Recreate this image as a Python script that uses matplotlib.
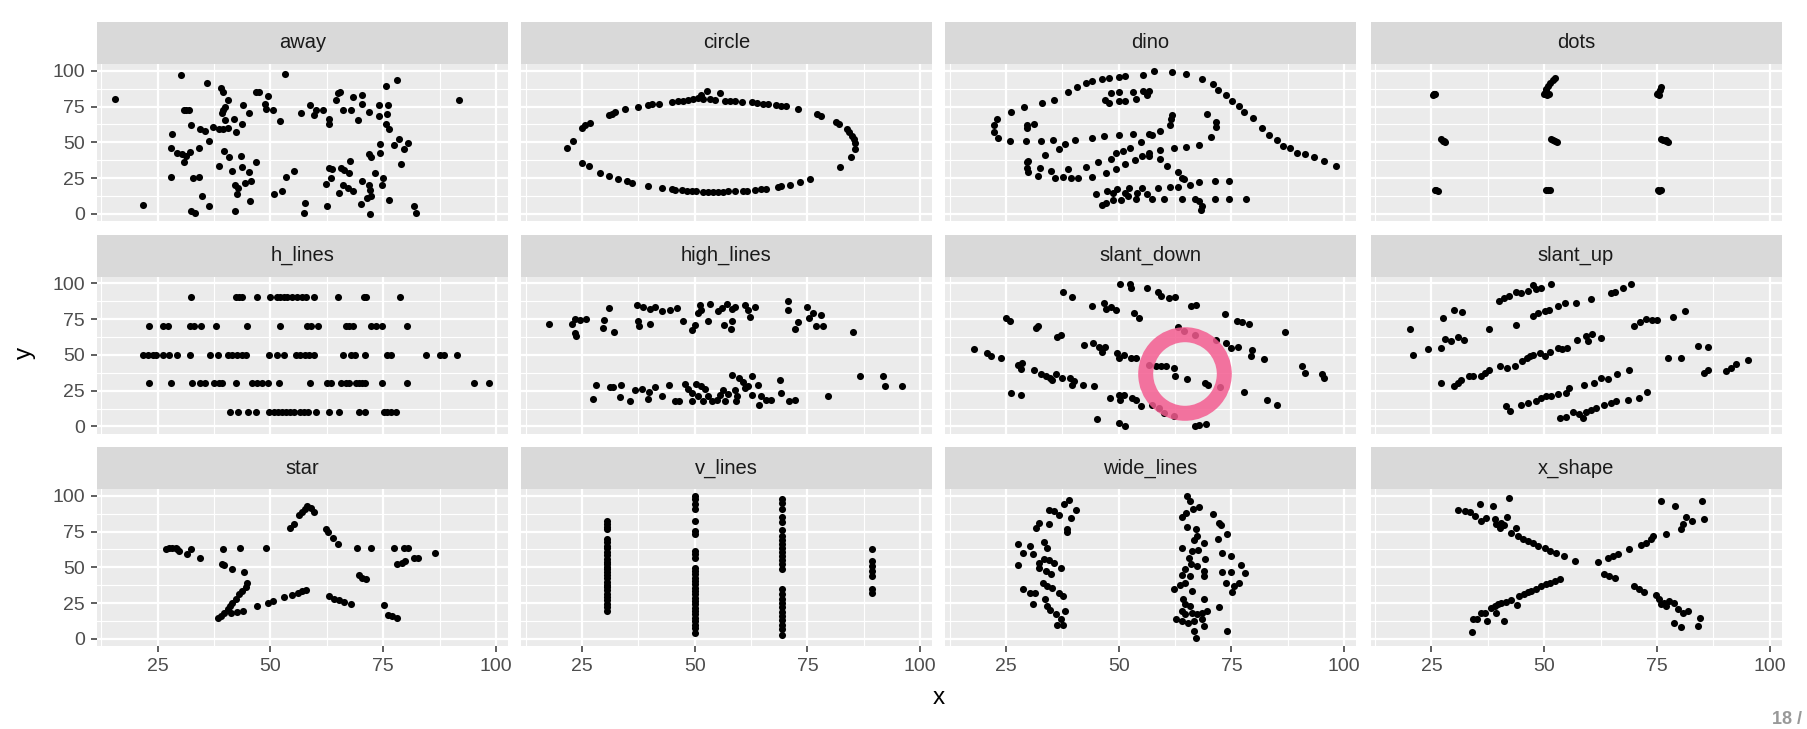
import numpy as np
import matplotlib.pyplot as plt
from matplotlib.patches import Ellipse

plt.rcParams['font.family'] = ['Liberation Sans', 'DejaVu Sans']

# points, (x, y)
away = [(15.6, 80.2), (21.8, 5.9), (30.2, 97.2), (28.0, 45.8), (28.3, 55.9), (28.0, 25.7), (29.4, 42.2),
        (30.8, 36.6), (31.3, 72.4), (32.0, 72.4), (30.9, 72.4), (32.4, 61.8), (32.2, 42.9), (31.3, 40.6),
        (30.3, 41.7), (34.2, 45.8), (32.9, 24.8), (34.2, 25.7), (34.9, 12.3), (32.4, 1.7), (33.3, 0.3),
        (36.4, 5.7), (35.9, 91.7), (34.4, 59.4), (35.4, 57.8), (36.4, 50.7), (37.2, 60.6), (38.7, 59.4),
        (39.6, 59.4), (40.5, 60.1), (39.0, 87.7), (39.6, 85.4), (39.9, 74.8), (40.6, 79.5), (39.6, 72.4),
        (39.2, 70.5), (39.9, 65.3), (42.0, 66.5), (42.3, 57.1), (43.6, 62.5), (44.0, 75.9), (45.3, 70.5),
        (46.8, 85.4), (47.5, 85.4), (49.4, 82.3), (48.8, 76.7), (49.0, 73.6), (50.5, 72.4), (52.2, 64.9),
        (53.3, 97.9), (39.8, 44.1), (40.9, 39.4), (38.7, 33.5), (41.6, 30.0), (43.5, 40.6), (43.6, 32.8),
        (45.3, 29.2), (46.8, 36.6), (42.1, 20.5), (42.6, 13.9), (42.8, 18.2), (44.4, 21.7), (45.7, 22.9),
        (45.4, 9.2), (42.1, 1.7), (50.8, 13.9), (52.5, 15.8), (53.4, 25.9), (55.3, 30.0), (56.7, 70.8),
        (58.8, 75.9), (60.1, 72.4), (59.7, 68.9), (61.7, 72.4), (63.0, 66.5), (63.0, 63.0), (64.5, 79.5),
        (65.0, 84.2), (65.5, 85.4), (66.0, 72.9), (67.8, 72.9), (68.2, 81.4), (69.4, 65.8), (70.2, 83.0),
        (70.2, 77.1), (71.9, 71.2), (74.1, 75.9), (76.1, 75.9), (75.6, 89.4), (78.1, 93.6), (74.1, 68.2),
        (75.9, 70.0), (75.7, 63.0), (76.3, 59.4), (74.3, 48.8), (77.4, 48.3), (78.5, 52.4), (80.5, 49.3),
        (79.6, 45.3), (78.9, 35.1), (74.3, 42.2), (71.9, 41.7), (72.4, 39.4), (73.2, 28.8), (75.0, 25.2),
        (74.8, 20.5), (71.9, 20.0), (72.1, 17.0), (72.3, 12.3), (71.5, 11.1), (70.0, 6.8), (72.1, 0.1),
        (76.4, 9.7), (81.8, 5.7), (82.2, 0.5), (70.2, 23.3), (67.6, 37.0), (67.4, 28.8), (66.3, 30.4),
        (65.6, 32.3), (63.7, 31.1), (63.0, 32.3), (62.3, 21.0), (63.4, 25.2), (65.2, 14.6), (66.0, 20.5),
        (67.1, 18.2), (68.2, 15.8), (62.6, 5.2), (57.6, 7.5), (57.5, 0.5), (91.8, 79.5)]

circle = [(52.8, 85.8), (55.6, 84.2), (51.5, 83.0), (44.9, 78.3), (46.4, 79.0), (47.5, 79.0), (48.6, 79.5),
          (49.7, 80.0), (50.7, 80.7), (51.9, 80.0), (53.4, 80.0), (54.5, 79.5), (56.7, 79.0), (57.8, 79.0),
          (58.9, 79.0), (60.4, 78.5), (62.6, 78.3), (63.7, 77.6), (65.2, 76.7), (66.3, 76.7), (68.1, 75.9),
          (69.2, 75.5), (70.3, 75.5), (72.9, 73.1), (77.0, 69.6), (77.9, 68.2), (81.4, 64.2), (81.9, 62.5),
          (83.8, 59.4), (84.3, 57.1), (84.8, 54.7), (85.4, 52.4), (85.6, 49.3), (85.6, 45.3), (84.6, 39.4),
          (82.2, 33.0), (75.5, 24.1), (73.3, 22.2), (71.1, 20.5), (69.2, 19.3), (68.5, 18.6), (65.9, 17.7),
          (64.8, 17.5), (63.3, 16.5), (61.5, 16.3), (60.8, 16.3), (58.9, 15.8), (57.4, 15.8), (56.3, 15.6),
          (55.2, 15.6), (54.1, 15.6), (53.0, 15.6), (51.9, 15.6), (50.4, 15.8), (49.3, 16.0), (48.2, 16.3),
          (47.1, 16.7), (45.6, 17.0), (44.9, 17.5), (42.7, 18.2), (39.7, 19.8), (36.1, 21.7), (35.0, 22.9),
          (33.1, 24.1), (30.9, 26.4), (28.9, 28.8), (26.5, 33.5), (25.0, 35.8), (21.7, 46.0), (23.0, 51.2),
          (25.0, 60.1), (25.7, 61.8), (26.8, 63.4), (30.9, 68.9), (31.6, 70.0), (32.4, 71.2), (34.6, 73.1),
          (37.5, 74.8), (39.7, 76.2), (40.5, 76.7), (42.0, 77.1)]

dino = [(55.4, 97.2), (51.5, 96.0), (46.2, 94.5), (42.8, 91.4), (40.8, 88.3), (38.7, 84.9), (35.6, 79.9),
        (33.1, 77.6), (29.0, 74.5), (26.2, 71.4), (23.1, 66.4), (22.3, 61.8), (22.3, 57.2), (23.3, 52.9),
        (25.9, 51.0), (29.5, 51.0), (32.8, 51.0), (35.4, 51.4), (40.3, 51.4), (44.1, 52.9), (46.7, 54.1),
        (50.0, 55.3), (53.1, 55.6), (56.7, 56.0), (59.2, 57.9), (61.3, 62.2), (61.5, 66.4), (61.8, 69.1),
        (57.4, 55.3), (54.9, 49.9), (52.6, 46.0), (48.2, 38.3), (49.5, 42.2), (51.0, 44.1), (45.4, 36.4),
        (42.8, 32.6), (38.7, 31.4), (35.1, 30.3), (32.6, 32.2), (30.0, 36.8), (33.6, 41.4), (36.7, 45.6),
        (38.2, 49.1), (29.7, 36.0), (29.7, 32.2), (30.0, 29.1), (32.1, 26.8), (35.9, 25.3), (41.0, 25.3),
        (44.1, 25.6), (47.2, 28.7), (49.5, 31.4), (51.5, 34.9), (53.6, 37.6), (55.1, 40.6), (56.7, 42.2),
        (59.2, 44.5), (62.3, 46.0), (64.9, 46.8), (67.9, 47.9), (70.5, 53.7), (71.5, 60.6), (71.5, 64.5),
        (69.5, 69.5), (46.9, 79.9), (48.2, 84.1), (50.0, 85.3), (53.1, 85.3), (55.4, 86.0), (56.7, 86.0),
        (56.2, 82.9), (53.8, 80.6), (51.3, 78.7), (50.0, 78.7), (47.9, 77.6), (29.7, 59.9), (29.7, 62.2),
        (31.3, 62.6), (57.9, 99.5), (61.8, 99.1), (64.9, 97.6), (68.5, 94.1), (70.8, 91.0), (72.1, 86.4),
        (73.8, 83.3), (75.1, 79.1), (76.7, 75.3), (77.7, 71.4), (79.7, 66.8), (81.8, 60.3), (83.3, 55.3),
        (85.1, 51.4), (86.4, 47.6), (87.9, 46.0), (89.5, 42.6), (93.3, 39.9), (95.4, 36.8), (98.2, 33.7),
        (56.7, 40.6), (59.2, 38.3), (60.8, 33.7), (63.1, 29.1), (64.1, 25.3), (64.4, 24.1), (74.4, 22.9),
        (71.3, 22.9), (67.9, 22.2), (65.9, 20.3), (63.1, 19.1), (61.3, 19.1), (58.7, 18.3), (55.1, 18.3),
        (52.3, 18.3), (49.7, 17.6), (47.4, 16.0), (44.9, 13.7), (48.7, 14.9), (51.3, 14.9), (54.1, 14.9),
        (56.2, 14.1), (52.1, 12.6), (48.7, 9.5), (47.2, 7.6), (46.2, 6.0), (50.5, 9.5), (53.8, 10.3),
        (57.4, 10.3), (60.0, 10.6), (64.1, 10.6), (66.9, 10.6), (71.3, 10.6), (74.4, 10.6), (78.2, 10.6),
        (67.9, 8.7), (68.5, 5.3), (68.2, 2.9), (37.7, 25.8), (39.5, 25.4), (91.3, 41.5), (50.0, 95.8),
        (47.9, 95.0), (44.1, 92.7)]

dots = [(25.4, 83.0), (25.6, 83.5), (25.7, 84.0), (25.5, 83.8),
        (27.2, 52.0), (27.6, 51.2), (28.1, 50.5), (27.9, 50.9),
        (25.8, 16.8), (26.1, 16.5), (26.4, 16.3),
        (50.0, 83.6), (50.2, 84.5), (50.3, 85.8), (50.5, 87.5), (50.8, 89.5), (51.3, 91.5), (51.9, 93.8),
        (52.3, 95.0), (50.6, 83.2), (51.0, 84.0),
        (51.6, 52.2), (52.0, 51.5), (52.5, 50.8), (52.8, 50.2),
        (50.4, 16.6), (50.8, 16.4), (51.2, 16.7),
        (75.0, 83.4), (75.3, 84.5), (75.6, 86.3), (75.8, 88.3), (75.4, 83.0),
        (75.8, 52.0), (76.3, 51.6), (76.9, 50.9), (77.4, 50.2), (77.1, 51.4),
        (75.2, 16.6), (75.5, 16.0), (75.8, 16.4)]

h_lines = ([(x, 90.1) for x in [32.4, 42.3, 43.0, 43.8, 47.1, 49.9, 51.5, 52.2, 53.0, 53.7, 54.8, 55.9,
                                 57.0, 58.0, 59.7, 64.9, 70.8, 71.1, 78.7]]
           + [(x, 70.2) for x in [23.0, 26.1, 27.2, 32.2, 33.1, 34.6, 37.9, 44.9, 52.2, 58.1, 59.0, 60.5,
                                  66.7, 67.5, 68.2, 72.2, 73.3, 74.8, 80.2]]
           + [(x, 50.2) for x in [21.7, 22.8, 23.9, 24.6, 26.3, 27.5, 29.4, 32.2, 36.7, 38.3, 40.5, 41.6,
                                  42.7, 43.6, 44.7, 49.7, 51.4, 53.0, 55.6, 56.5, 57.6, 58.5, 59.7, 66.0,
                                  67.8, 68.7, 70.9, 75.8, 76.7, 84.4, 87.6, 88.5, 91.3]]
           + [(x, 30.3) for x in [23.0, 28.0, 32.7, 34.4, 35.4, 37.5, 38.6, 39.3, 42.3, 46.0, 47.1, 48.2,
                                  49.4, 51.9, 58.8, 62.5, 63.4, 65.7, 66.7, 67.5, 68.9, 69.7, 70.4, 70.9,
                                  74.8, 80.2, 95.1, 98.4]]
           + [(x, 10.2) for x in [41.1, 42.9, 45.1, 46.8, 49.7, 50.7, 51.6, 52.5, 53.4, 54.4, 55.3, 56.6,
                                  57.5, 58.4, 60.1, 63.0, 65.2, 69.6, 70.9, 75.2, 75.9, 76.8, 77.8]])

high_lines = [(17.8, 71.4), (22.9, 71.4), (23.5, 74.9), (24.6, 74.0), (25.9, 74.9), (23.5, 65.1), (23.7, 63.3),
              (29.8, 74.4), (29.6, 68.6), (31.1, 83.0), (32.2, 65.6), (37.2, 84.9), (38.6, 83.3), (40.1, 81.9),
              (41.2, 83.3), (42.7, 80.7), (44.5, 81.4), (46.0, 82.6), (37.4, 73.3), (37.7, 69.8), (40.0, 71.6),
              (47.3, 73.3), (49.3, 67.4), (50.1, 70.9), (50.7, 79.1), (51.2, 84.9), (51.5, 81.4), (52.9, 73.3),
              (53.4, 85.6), (55.2, 80.7), (56.0, 82.6), (57.1, 85.6), (58.2, 81.9), (58.9, 83.3), (56.6, 70.9),
              (58.1, 67.9), (58.2, 73.3), (61.1, 84.9), (62.2, 76.7), (63.4, 83.7), (61.9, 81.4), (70.7, 87.9),
              (70.6, 81.4), (72.3, 68.1), (72.8, 72.6), (74.8, 83.7), (75.3, 75.6), (76.8, 70.2), (77.9, 77.9),
              (78.5, 70.2), (76.3, 79.1), (85.1, 65.6),
              (27.4, 19.3), (28.2, 28.6), (31.3, 27.2), (32.0, 27.4), (33.7, 29.1), (33.5, 20.2), (35.7, 17.9),
              (36.7, 25.6), (38.3, 26.0), (39.7, 19.1), (39.9, 23.7), (41.2, 27.4), (42.7, 20.9), (44.3, 29.1),
              (45.6, 17.4), (46.5, 17.4), (47.9, 29.8), (48.6, 26.0), (49.3, 23.3), (50.4, 29.8), (51.5, 27.9),
              (52.2, 26.0), (49.3, 17.4), (50.8, 20.9), (51.9, 17.4), (53.0, 20.9), (53.8, 17.4), (54.9, 18.6),
              (55.6, 22.1), (56.3, 25.6), (56.7, 17.4), (57.4, 22.6), (58.2, 36.0), (58.9, 25.6), (59.3, 20.9),
              (59.1, 17.4), (59.8, 33.7), (60.8, 30.7), (61.1, 26.7), (61.9, 27.9), (62.8, 34.9), (62.8, 22.1),
              (64.0, 29.1), (64.3, 15.1), (64.8, 20.9), (65.9, 18.6), (67.0, 18.6), (68.9, 32.1), (69.1, 23.3),
              (70.9, 17.4), (72.2, 18.6), (79.6, 21.4), (86.6, 35.3), (91.7, 35.3), (92.1, 28.4), (96.0, 28.4)]

slant_down = [(18.0, 54.0), (20.7, 51.6), (21.7, 49.5), (24.0, 47.7), (25.0, 75.6), (25.9, 73.3), (26.1, 23.3),
              (28.3, 21.6), (27.6, 43.0), (28.5, 44.2), (28.3, 40.0), (31.3, 39.5), (31.6, 68.4), (32.2, 69.8),
              (32.8, 36.7), (33.8, 35.3), (34.7, 33.7), (35.3, 32.6), (36.0, 36.7), (36.4, 62.3), (37.2, 64.0),
              (37.4, 33.7), (37.7, 94.2), (39.1, 33.7), (39.7, 90.7), (39.7, 29.1), (40.1, 31.4), (42.1, 29.1),
              (42.4, 57.0), (44.3, 58.6), (44.5, 27.9), (44.0, 84.2), (45.6, 55.8), (46.3, 52.3), (46.9, 55.8),
              (46.7, 86.0), (47.1, 81.9), (48.2, 83.3), (49.3, 81.4), (48.1, 19.8), (49.7, 51.2), (50.1, 47.7),
              (51.2, 50.0), (50.1, 22.1), (50.4, 18.1), (51.2, 21.6), (52.7, 47.7), (52.9, 19.8), (53.8, 47.7),
              (53.8, 18.6), (54.9, 14.4), (50.2, 99.5), (52.4, 99.5), (52.8, 96.5), (53.3, 79.5), (54.6, 75.6),
              (56.3, 96.5), (58.8, 94.2), (59.3, 91.2), (61.1, 89.5), (62.5, 90.2), (56.7, 43.0), (58.2, 41.9),
              (59.3, 41.9), (60.4, 41.9), (62.2, 40.7), (62.5, 35.3), (65.2, 33.0), (69.2, 30.2), (69.9, 29.1),
              (57.4, 15.1), (58.9, 12.8), (60.1, 9.3), (62.2, 7.0), (63.1, 69.3), (64.4, 66.3), (67.0, 64.0),
              (66.1, 84.2), (67.1, 84.9), (67.0, 0.5), (67.9, 1.2), (69.4, 1.9), (45.3, 5.1), (50.1, 2.3),
              (51.3, 0.5), (71.5, 60.5), (73.7, 58.6), (74.8, 54.7), (76.5, 55.3), (72.4, 27.4), (73.5, 78.6),
              (76.2, 73.3), (77.4, 72.6), (78.8, 71.6), (79.6, 53.5), (79.3, 49.3), (82.2, 47.0), (77.7, 23.7),
              (82.9, 18.6), (85.1, 15.1), (86.9, 65.6), (90.6, 41.9), (91.4, 37.2), (95.1, 36.7), (95.5, 33.7)]

slant_up = [(20.2, 67.9), (20.9, 50.0), (24.3, 54.0), (27.1, 54.7), (27.6, 75.6), (30.0, 81.4), (31.8, 80.2),
            (28.0, 60.9), (29.3, 60.0), (31.0, 62.3), (32.2, 60.5), (27.2, 30.2), (30.0, 27.9), (30.9, 30.2),
            (31.6, 32.6), (33.3, 34.9), (34.2, 35.3), (36.1, 34.9), (36.8, 37.2), (37.7, 39.5), (37.7, 67.9),
            (40.0, 87.9), (41.2, 89.5), (42.3, 91.2), (43.8, 94.2), (44.9, 93.0), (46.4, 94.9), (47.5, 98.8),
            (48.2, 95.8), (49.3, 96.5), (51.4, 99.5), (43.8, 70.9), (40.1, 42.3), (41.7, 40.7), (43.5, 42.3),
            (45.0, 46.0), (46.1, 47.7), (46.9, 49.3), (47.6, 50.0), (49.1, 51.6), (50.2, 49.3), (51.3, 52.3),
            (53.1, 54.7), (53.9, 54.0), (55.0, 54.7), (57.2, 60.5), (59.2, 62.8), (59.8, 60.0), (60.7, 64.4),
            (62.7, 61.6), (47.6, 77.2), (48.7, 79.1), (50.2, 80.9), (51.1, 81.4), (53.1, 84.2), (54.6, 86.5),
            (57.0, 86.0), (60.4, 88.8), (64.8, 93.0), (65.7, 94.2), (67.4, 96.5), (69.2, 99.5), (41.6, 14.0),
            (42.5, 10.5), (44.9, 15.1), (46.4, 16.3), (48.2, 17.4), (49.3, 19.8), (50.4, 20.9), (51.5, 21.4),
            (53.0, 22.8), (54.9, 23.3), (55.4, 26.7), (58.9, 29.1), (61.1, 30.2), (62.6, 33.7), (64.1, 33.0),
            (66.2, 36.7), (68.7, 39.5), (53.4, 5.8), (54.9, 6.5), (56.3, 9.8), (57.8, 8.8), (58.6, 5.8),
            (59.3, 9.8), (60.4, 11.6), (61.5, 12.8), (63.3, 15.1), (64.8, 16.7), (65.9, 17.4), (68.5, 18.6),
            (71.1, 19.8), (72.8, 23.7), (70.0, 70.2), (71.3, 72.6), (72.6, 74.9), (74.0, 74.4), (75.1, 74.0),
            (78.5, 76.7), (81.2, 80.9), (77.5, 47.7), (80.3, 47.7), (84.0, 56.3), (86.2, 55.8), (85.5, 37.2),
            (86.4, 39.1), (90.3, 38.4), (91.4, 40.7), (92.5, 43.5), (95.2, 46.5)]

star = [(26.8, 63.1), (27.6, 63.8), (28.3, 63.8), (29.1, 63.8), (29.8, 61.4), (29.4, 63.1), (31.6, 59.1),
        (32.5, 63.1), (34.4, 56.8), (39.6, 63.1), (43.2, 63.3), (49.1, 63.8), (39.2, 52.1), (39.8, 51.4),
        (41.4, 49.1), (44.2, 46.7), (44.9, 38.8), (44.5, 36.4), (43.8, 33.4), (43.1, 31.1), (42.3, 28.0),
        (41.6, 25.2), (41.1, 22.9), (40.5, 20.6), (39.8, 18.2), (39.0, 15.9), (38.4, 14.3), (41.2, 17.8),
        (42.6, 18.7), (44.0, 19.4), (47.1, 22.9), (49.4, 25.2), (50.5, 26.4), (53.0, 29.2), (54.7, 30.6),
        (56.2, 32.2), (57.1, 33.4), (57.8, 34.1), (54.4, 77.8), (55.3, 80.1), (56.4, 86.4), (57.1, 88.8),
        (57.7, 90.7), (58.2, 92.5), (59.0, 91.1), (59.7, 88.3), (62.3, 77.1), (62.7, 74.8), (63.8, 70.8),
        (64.9, 66.1), (63.0, 29.9), (64.1, 28.0), (65.2, 27.1), (66.3, 25.9), (67.9, 24.1), (69.1, 63.3),
        (72.2, 63.3), (69.7, 44.4), (70.4, 42.8), (71.1, 41.6), (75.2, 23.6), (76.0, 16.6), (77.0, 15.9),
        (78.0, 14.7), (77.4, 63.3), (79.6, 63.3), (80.5, 63.3), (78.1, 52.1), (79.2, 53.3), (79.8, 54.4),
        (81.8, 56.8), (82.7, 56.8), (86.5, 60.3)]

v_lines = ([(30.5, y) for y in [82.5, 80.6, 78.0, 76.5, 70.0, 67.5, 65.0, 63.2, 61.0, 58.5, 56.0, 54.0,
                                52.0, 50.0, 48.5, 46.5, 44.5, 42.5, 40.0, 38.0, 36.0, 34.0, 31.5, 29.0,
                                27.0, 24.5, 22.0, 19.5]]
           + [(50.1, y) for y in [99.5, 97.7, 94.2, 90.7, 82.5, 75.5, 73.1, 61.4, 59.1, 56.8, 49.8, 47.4,
                                  45.1, 42.8, 40.4, 38.1, 35.7, 33.4, 31.1, 28.7, 26.4, 24.1, 21.7, 19.4,
                                  17.1, 14.7, 12.4, 10.0, 7.7, 4.2]]
           + [(69.4, y) for y in [97.7, 95.0, 91.0, 85.0, 82.0, 76.0, 72.0, 69.0, 66.5, 63.5, 61.0, 58.0,
                                  55.0, 52.0, 48.6, 34.6, 31.5, 28.0, 25.0, 22.0, 19.0, 16.0, 13.0, 10.0,
                                  7.0, 3.0]]
           + [(89.4, y) for y in [62.6, 54.4, 50.9, 47.4, 43.9, 34.6, 31.8]])

wide_lines = [(39.0, 97.2), (37.9, 94.2), (40.5, 90.0), (39.4, 84.1), (38.6, 76.6), (38.6, 74.8), (34.6, 90.2),
              (35.7, 89.5), (36.8, 86.4), (32.4, 81.3), (31.6, 77.8), (34.6, 80.1), (27.6, 66.1), (28.7, 60.3),
              (30.3, 65.0), (30.9, 59.1), (33.4, 67.8), (34.1, 63.8), (27.7, 51.4), (32.4, 53.3), (33.5, 55.6),
              (34.6, 55.1), (35.7, 52.8), (37.2, 49.8), (32.4, 49.8), (33.8, 47.4), (35.1, 45.1), (33.3, 39.3),
              (34.2, 36.9), (35.3, 35.7), (28.7, 35.0), (30.3, 32.2), (31.5, 31.8), (36.8, 32.2), (37.7, 29.9),
              (33.7, 27.6), (30.9, 24.1), (34.0, 22.9), (34.7, 20.1), (36.2, 17.1), (38.0, 19.4), (37.3, 13.6),
              (36.4, 10.0), (37.7, 10.0),
              (65.2, 99.5), (65.9, 96.5), (67.8, 91.8), (66.5, 90.7), (64.9, 87.9), (64.1, 84.8), (65.2, 78.5),
              (67.1, 76.6), (67.4, 72.0), (66.7, 69.2), (64.0, 63.8), (66.3, 61.4), (67.6, 61.9), (68.9, 66.8),
              (65.6, 56.8), (66.0, 52.1), (69.1, 56.1), (67.4, 50.9), (68.9, 47.4), (64.8, 48.6), (64.1, 44.4),
              (65.9, 43.9), (68.9, 43.9), (64.8, 39.3), (63.5, 37.6), (62.2, 34.6), (66.3, 33.4), (64.2, 27.6),
              (64.8, 24.1), (65.9, 22.9), (68.8, 27.6), (64.0, 19.4), (64.8, 17.1), (66.3, 18.2), (67.4, 17.1),
              (68.5, 18.2), (69.6, 19.4), (62.6, 14.0), (64.1, 12.4), (65.4, 11.2), (66.6, 12.4), (68.5, 13.6),
              (68.9, 8.9), (66.6, 5.4), (67.1, 0.5), (70.9, 87.2), (72.2, 81.3), (72.6, 79.4), (74.1, 73.1),
              (72.1, 70.1), (73.0, 60.3), (74.8, 57.9), (77.0, 51.6), (78.0, 46.3), (73.0, 46.7), (75.0, 46.7),
              (73.7, 39.3), (75.5, 36.9), (76.6, 38.8), (75.1, 32.7), (72.3, 22.2), (74.0, 5.4)]

x_shape = [(31.0, 90.0), (32.4, 89.5), (33.5, 88.6), (34.6, 86.0), (35.7, 94.2), (36.1, 82.5), (37.2, 84.1),
           (38.6, 93.0), (39.0, 83.6), (39.4, 80.1), (40.1, 77.8), (40.5, 81.3), (41.2, 79.4), (41.8, 84.8),
           (42.1, 98.1), (42.7, 74.3), (43.8, 77.8), (44.2, 72.0), (45.3, 70.1), (46.4, 68.5), (47.5, 66.8),
           (48.6, 65.0), (50.1, 63.8), (51.2, 61.4), (52.7, 59.8), (54.4, 57.9), (56.9, 54.4), (63.3, 45.1),
           (64.4, 43.9), (65.6, 42.8), (70.0, 36.9), (71.1, 34.6), (72.2, 32.7), (74.8, 30.4), (75.5, 27.6),
           (75.9, 24.1), (76.6, 25.2), (77.0, 22.9), (77.7, 26.4), (78.8, 25.2), (79.6, 20.6), (80.7, 18.2),
           (81.8, 19.4), (78.8, 11.2), (80.4, 8.4), (84.0, 9.3), (84.6, 14.7),
           (34.0, 4.7), (34.2, 13.6), (35.0, 14.0), (36.1, 17.8), (36.8, 18.2), (37.4, 12.4), (38.3, 21.7),
           (39.2, 22.9), (39.7, 24.1), (39.4, 18.2), (40.5, 25.2), (41.1, 12.4), (41.6, 25.7), (42.7, 27.1),
           (44.0, 23.6), (44.5, 29.9), (45.5, 31.5), (46.4, 32.7), (47.1, 33.4), (48.2, 35.0), (49.3, 36.9),
           (50.4, 38.1), (51.2, 39.3), (52.3, 40.4), (53.4, 41.6), (61.9, 53.7), (64.1, 56.8), (65.2, 57.9),
           (66.4, 59.6), (68.7, 62.6), (71.5, 65.4), (72.6, 67.3), (73.6, 69.6), (74.1, 72.0), (77.1, 73.1),
           (80.3, 76.6), (80.8, 80.1), (81.5, 84.8), (82.8, 82.5), (75.9, 96.0), (79.0, 93.0), (84.9, 96.0),
           (85.5, 83.6)]

panel_names = ['away', 'circle', 'dino', 'dots', 'h_lines', 'high_lines',
               'slant_down', 'slant_up', 'star', 'v_lines', 'wide_lines', 'x_shape']
panel_data = [away, circle, dino, dots, h_lines, high_lines,
              slant_down, slant_up, star, v_lines, wide_lines, x_shape]
x_ticks = [25, 50, 75, 100]
y_ticks = [0, 25, 50, 75, 100]
minor_ticks = [12.5, 37.5, 62.5, 87.5]

W, H = 1807, 729
fig = plt.figure(figsize=(W / 100, H / 100), dpi=100)
fig.patch.set_facecolor('white')

col_left = [96.7, 521, 945, 1370.5]
row_top = [64, 276.5, 489]
pw, ph, sh = 411, 157, 42

for i, (name, pts) in enumerate(zip(panel_names, panel_data)):
    r, c = divmod(i, 4)
    l, t = col_left[c], row_top[r]
    ax = fig.add_axes([l / W, 1 - (t + ph) / H, pw / W, ph / H])
    ax.set_facecolor('#EBEBEB')
    ax.set_xlim(11.5, 102.6)
    ax.set_ylim(-4.95, 104.7)
    ax.set_xticks(x_ticks)
    ax.set_yticks(y_ticks)
    ax.set_xticks(minor_ticks, minor=True)
    ax.set_yticks(minor_ticks, minor=True)
    ax.grid(which='major', color='white', lw=1.6)
    ax.grid(which='minor', color='white', lw=0.8)
    ax.set_axisbelow(True)
    for s in ax.spines.values():
        s.set_visible(False)
    ax.tick_params(which='minor', length=0)
    ax.tick_params(which='major', length=4.3, width=1.1, color='#333333',
                   labelsize=14, labelcolor='#4D4D4D', pad=4)
    if c != 0:
        ax.tick_params(axis='y', left=False, labelleft=False)
    if r != 2:
        ax.tick_params(axis='x', bottom=False, labelbottom=False)
    p = np.array(pts)
    ax.scatter(p[:, 0], p[:, 1], s=26, color='black', lw=0, zorder=3)

    # facet strip
    sax = fig.add_axes([l / W, 1 - t / H, pw / W, sh / H])
    sax.set_facecolor('#D9D9D9')
    sax.set_xticks([])
    sax.set_yticks([])
    for s in sax.spines.values():
        s.set_visible(False)
    sax.text(0.5, 0.5, name, ha='center', va='center', fontsize=14.5,
             color='#1A1A1A', transform=sax.transAxes)

fig.text(939 / W, 1 - 698 / H, 'x', ha='center', va='center', fontsize=17.5, color='black')
fig.text(25 / W, 1 - 353 / H, 'y', ha='center', va='center', rotation=90, fontsize=17.5, color='black')

# pink highlight ring on slant_down
ring = Ellipse((1185 / W, 1 - 374 / H), 2 * 39.3 / W, 2 * 39.3 / H, transform=fig.transFigure,
               fill=False, ec='#F45D91', lw=10.8, alpha=0.85, zorder=10)
fig.add_artist(ring)

# slide number in the corner
fig.text(1802 / W, 1 - 724 / H, '18 /', ha='right', va='baseline', fontsize=13,
         fontweight='bold', color='#999999')

fig.savefig('out.png', dpi=100)
